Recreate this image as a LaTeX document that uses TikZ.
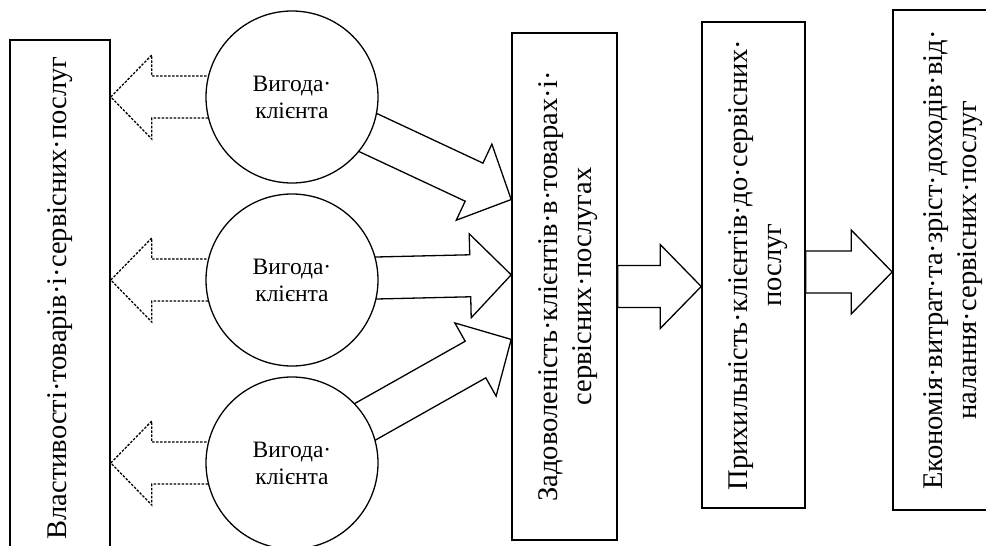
\documentclass[tikz,border=0pt]{standalone}
\usepackage{fontspec}
\setmainfont{Liberation Serif}
\usetikzlibrary{calc,positioning}

% half shaft width, half head width, head length of the block arrows
\newcommand{\arrshaft}{21pt}
\newcommand{\arrhead}{42pt}
\newcommand{\arrlen}{41pt}

% block arrow from #2 to #3 (the tip)
\newcommand{\blockarrow}[3][]{%
  \coordinate (hb) at ($(#3)!\arrlen!(#2)$);
  \draw[#1] ($(#2)!\arrshaft!90:(#3)$) -- ($(hb)!\arrshaft!90:(#3)$)
    -- ($(hb)!\arrhead!90:(#3)$) -- (#3)
    -- ($(hb)!\arrhead!-90:(#3)$) -- ($(hb)!\arrshaft!-90:(#3)$)
    -- ($(#2)!\arrshaft!-90:(#3)$) -- cycle;
}

\begin{document}
\begin{tikzpicture}[
    x=1pt, y=-1pt,
    box/.style={
        rectangle,
        draw,
        fill=white,
        line width=1.6pt,
        inner sep=0pt
    },
    benefit/.style={
        circle,
        draw,
        fill=white,
        minimum size=172pt,
        inner sep=0pt,
        line width=1.3pt,
        align=center,
        font=\fontsize{23.5}{27}\selectfont
    },
    vtext/.style={rotate=90, align=center, inner sep=0pt, font=\fontsize{28.5}{34}\selectfont},
    flowarrow/.style={draw, fill=white, line width=1.3pt, line join=miter},
    backarrow/.style={draw, fill=white, line width=1.3pt, dash pattern=on 2.5pt off 1.5pt}
]

\pgfdeclarelayer{background}
\pgfsetlayers{background,main}

\useasboundingbox (0,0) rectangle (986,546);
\clip (0,0) rectangle (986,546);

% --- BOXES ---
\node[box, minimum width=100pt, minimum height=516pt] (b1) at (60,298) {};
\node[vtext] (t1) at (b1) {Властивості·товарів·і·сервісних·послуг};

\node[box, minimum width=105pt, minimum height=507pt] (b3) at (564.5,286.5) {};
\node[vtext] (t3) at ($(b3)+(4,0)$) {Задоволеність·клієнтів·в·товарах·і·\\сервісних·послугах};

\node[box, minimum width=103pt, minimum height=486pt] (b4) at (753.5,265) {};
\node[vtext] (t4) at ($(b4)+(5,0)$) {Прихильність·клієнтів·до·сервісних·\\послуг};

\node[box, minimum width=120pt, minimum height=500pt] (b5) at (953,260) {};
\node[vtext] (t5) at (b5) {Економія·витрат·та·зріст·доходів·від·\\налання·сервісних·послуг};

% --- CIRCLES ---
\node[benefit] (c1) at (292,97) {Вигода·\\клієнта};
\node[benefit] (c2) at (292,280) {Вигода·\\клієнта};
\node[benefit] (c3) at (292,463) {Вигода·\\клієнта};

% tips on the satisfaction box
\coordinate (tip1) at ($(b3.north west)!0.329!(b3.south west)$);
\coordinate (tip2) at ($(b3.north west)!0.477!(b3.south west)$);
\coordinate (tip3) at ($(b3.north west)!0.604!(b3.south west)$);
\coordinate (out4) at ($(b4.east)+(0,7)$);

% --- ARROWS ---
\begin{pgfonlayer}{background}
    % back to the properties box
    \foreach \c in {c1,c2,c3}
        \blockarrow[backarrow]{\c}{b1.east |- \c};

    % to satisfaction
    \blockarrow[flowarrow]{c1}{tip1}
    \blockarrow[flowarrow]{c2}{tip2}
    \blockarrow[flowarrow]{c3}{tip3}

    % satisfaction -> loyalty -> savings
    \blockarrow[flowarrow]{b3.east}{b4.west |- b3.east}
    \blockarrow[flowarrow]{out4}{b5.west |- out4}
\end{pgfonlayer}

\end{tikzpicture}
\end{document}
